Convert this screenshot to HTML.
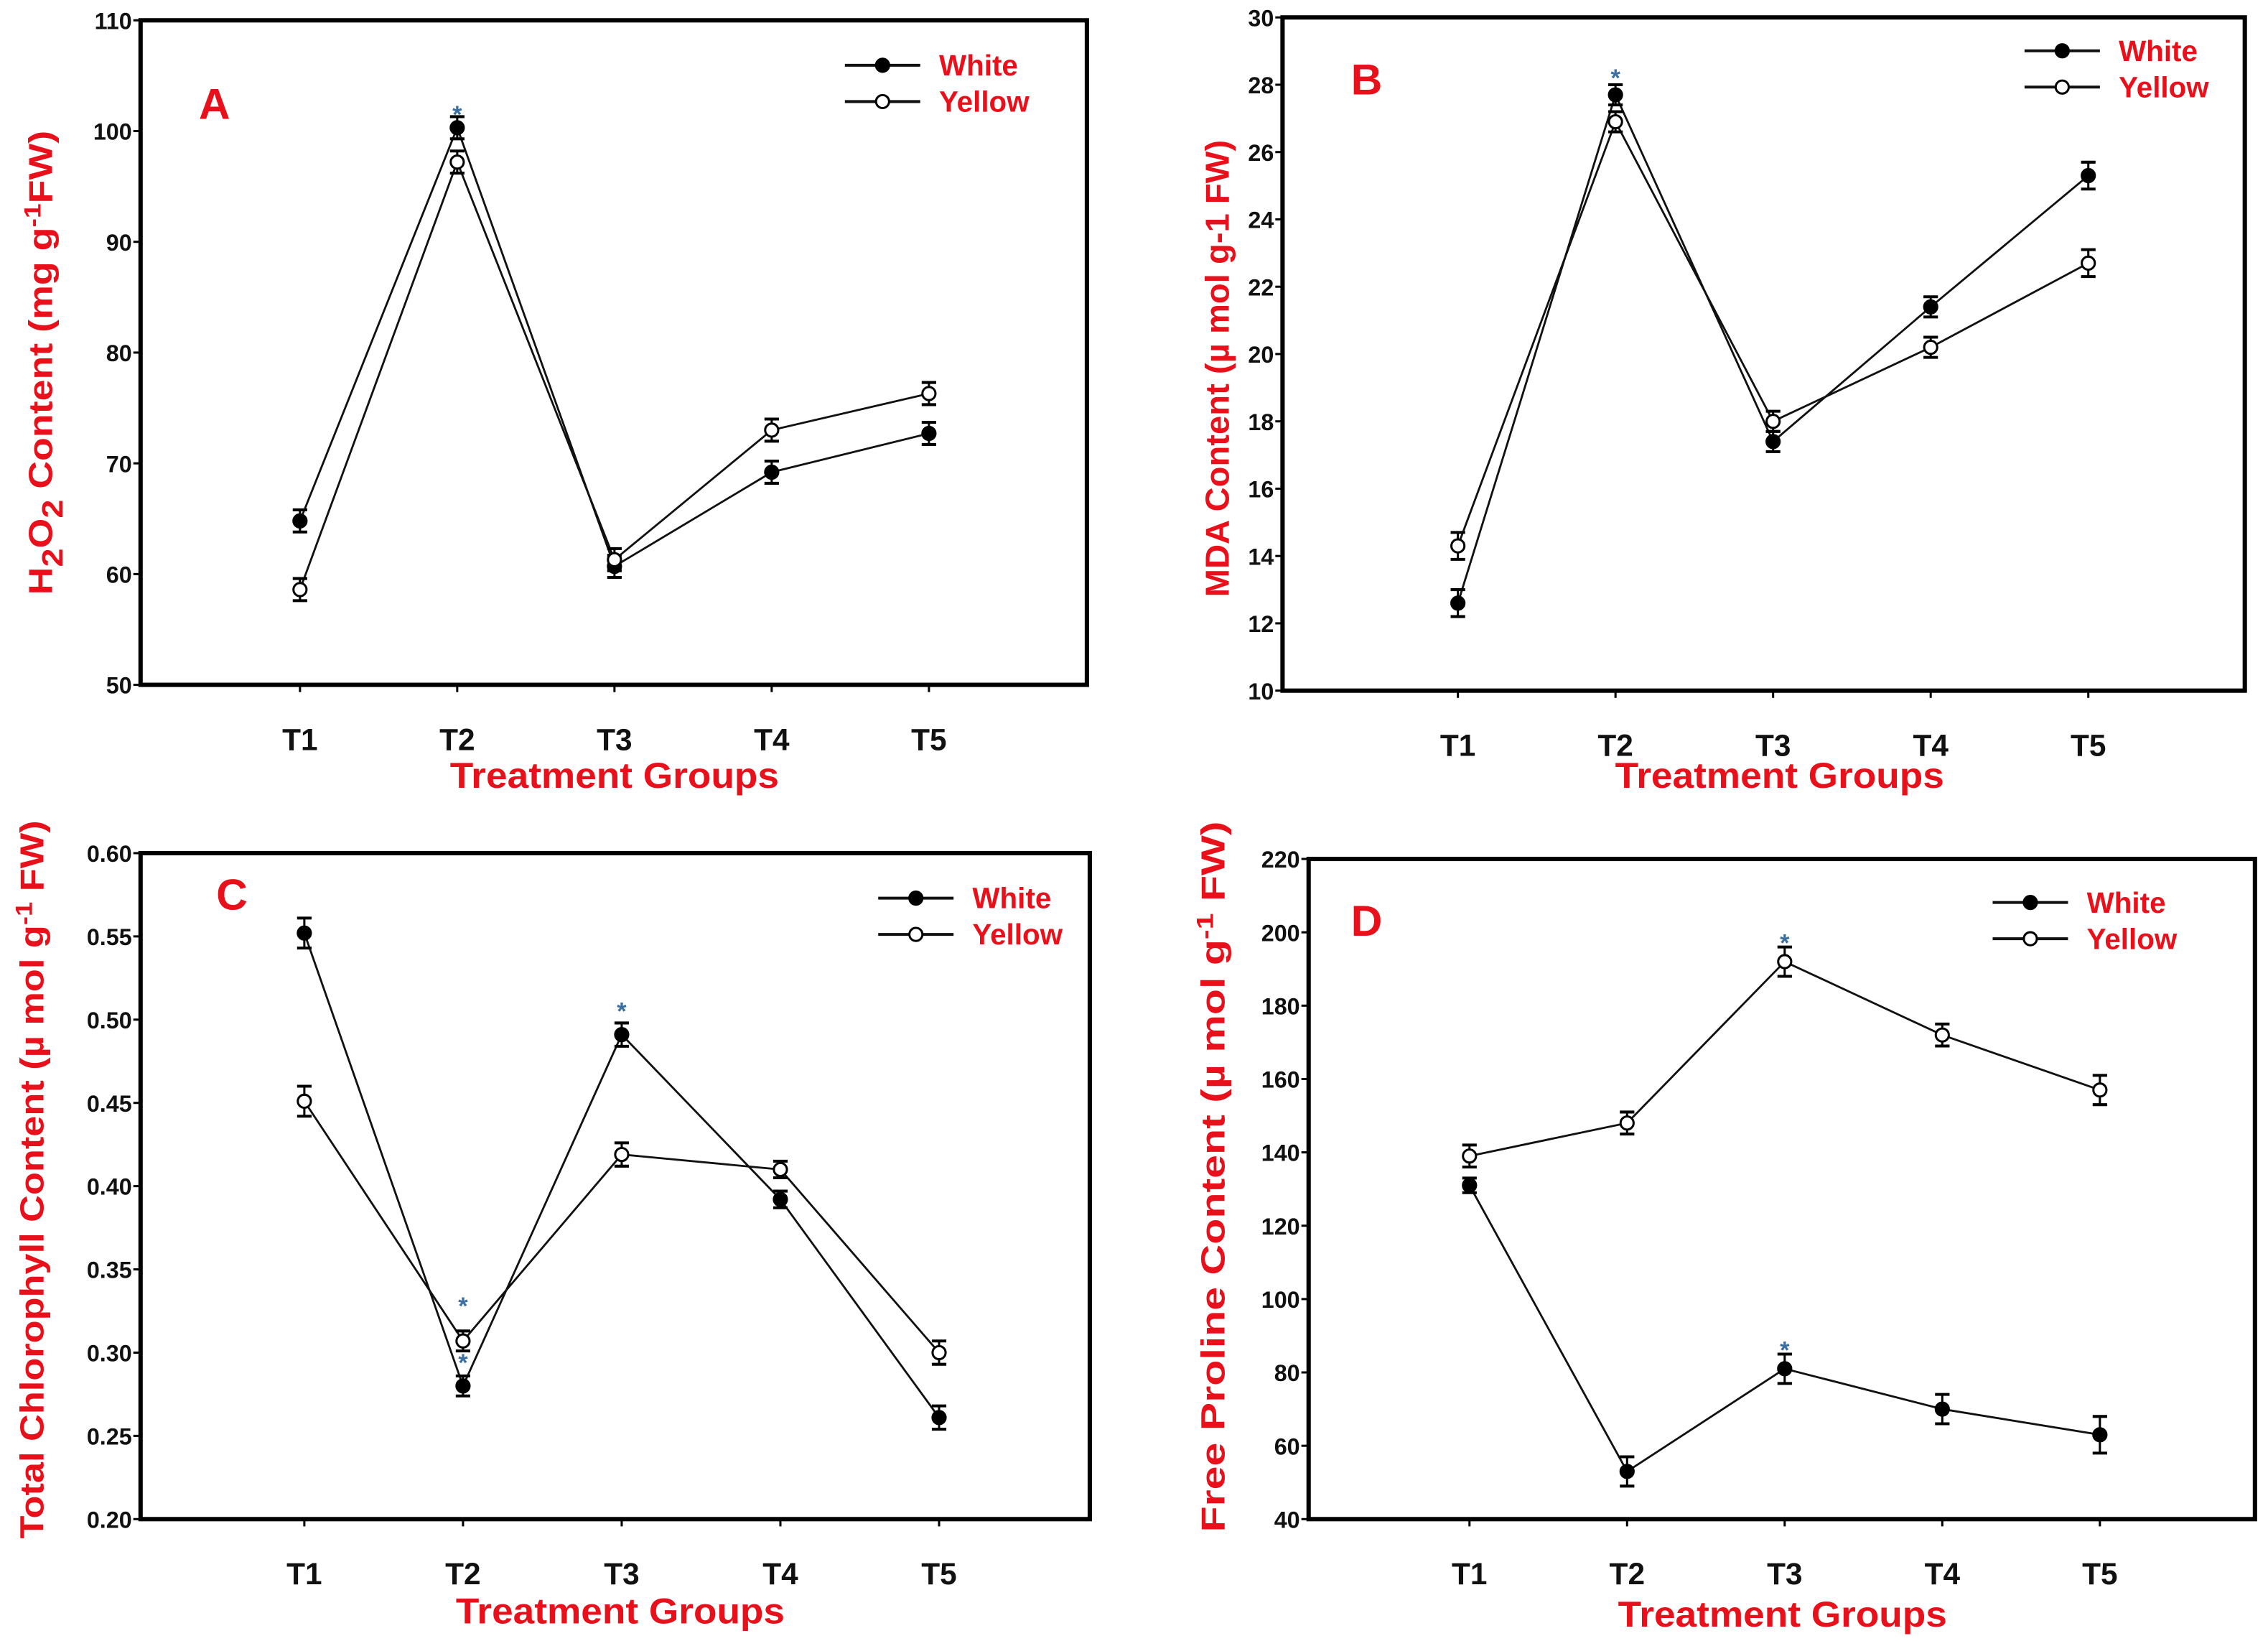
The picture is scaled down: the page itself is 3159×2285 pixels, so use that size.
<!DOCTYPE html>
<html><head><meta charset="utf-8">
<style>
html,body{margin:0;padding:0;background:#fff;}
svg{display:block;}
text{font-family:"Liberation Sans",Arial,sans-serif;font-weight:bold;}
</style></head>
<body>
<svg id="fig" xmlns="http://www.w3.org/2000/svg" width="3159" height="2285" viewBox="0 0 1565 1131" preserveAspectRatio="none">
<rect x="0" y="0" width="1565" height="1131" fill="#fff"/>
</svg>
<script>
// ---- data ----
const categories = ["T1","T2","T3","T4","T5"];
const aWhite = [64.8, 100.3, 60.7, 69.2, 72.7];
const aYellow = [58.6, 97.2, 61.3, 73.0, 76.3];
const aErr = [1.0, 1.0, 1.0, 1.0, 1.0];
const aTicks = [50,60,70,80,90,100,110];
const bWhite = [12.6, 27.7, 17.4, 21.4, 25.3];
const bYellow = [14.3, 26.9, 18.0, 20.2, 22.7];
const bErr = [0.4, 0.3, 0.3, 0.3, 0.4];
const bTicks = [10,12,14,16,18,20,22,24,26,28,30];
const cWhite = [0.552, 0.280, 0.491, 0.392, 0.261];
const cYellow = [0.451, 0.307, 0.419, 0.410, 0.300];
const cErr = [0.009, 0.006, 0.007, 0.005, 0.007];
const cTicks = ["0.20","0.25","0.30","0.35","0.40","0.45","0.50","0.55","0.60"];
const dWhite = [131, 53, 81, 70, 63];
const dYellow = [139, 148, 192, 172, 157];
const dErrW = [2, 4, 4, 4, 5];
const dErrY = [3, 3, 4, 3, 4];
const dTicks = [40,60,80,100,120,140,160,180,200,220];

const NS="http://www.w3.org/2000/svg";
const svg=document.getElementById('fig');
function mk(tag,attrs,parent,txt){const e=document.createElementNS(NS,tag);for(const k in attrs)e.setAttribute(k,attrs[k]);if(txt!==undefined)e.textContent=txt;(parent||svg).appendChild(e);return e;}

const panels=[
 {id:'a',letter:'A',L:97,R:750,T:14,B:472,x1:207,x5:641,ymin:50,ymax:110,ticks:aTicks,white:aWhite,yellow:aYellow,ew:aErr,ey:aErr,
  leg:{x:583,y:45},lx:148,ly:82,title:[['H',0],['2',1],['O',0],['2',1],[' Content (mg g',0],['-1',-1],['FW)',0]],tx:36,ty:250,tl:320,
  stars:[[1,'white',101.8]],xl:424,xy:543},
 {id:'b',letter:'B',L:885,R:1549,T:12,B:476,x1:1006,x5:1441,ymin:10,ymax:30,ticks:bTicks,white:bWhite,yellow:bYellow,ew:bErr,ey:bErr,
  leg:{x:1397,y:35},lx:943,ly:65,title:[['MDA Content (\u00b5 mol g-1 FW)',0]],tx:848,ty:254,tl:315,
  stars:[[1,'white',28.3]],xl:1228,xy:543},
 {id:'c',letter:'C',L:97,R:752,T:588,B:1047,x1:210,x5:648,ymin:0.2,ymax:0.6,ticks:cTicks,white:cWhite,yellow:cYellow,ew:cErr,ey:cErr,
  leg:{x:606,y:619},lx:160,ly:627,title:[['Total Chlorophyll Content (\u00b5 mol g',0],['-1',-1],[' FW)',0]],tx:30,ty:813,tl:495,
  stars:[[1,'w',0.33],[1,'w',0.296],[2,'w',0.507]],xl:428,xy:1119},
 {id:'d',letter:'D',L:903,R:1556,T:592,B:1047,x1:1014,x5:1449,ymin:40,ymax:220,ticks:dTicks,white:dWhite,yellow:dYellow,ew:dErrW,ey:dErrY,
  leg:{x:1375,y:622},lx:943,ly:645,title:[['Free Proline Content (\u00b5 mol g',0],['-1',-1],[' FW)',0]],tx:845,ty:811,tl:490,
  stars:[[2,'w',198],[2,'w',87]],xl:1230,xy:1121}
];

panels.forEach(p=>{
  const g=mk('g',{});
  
  
  const xs=i=>p.x1+(p.x5-p.x1)/4*i;
  const ys=v=>p.B-(v-p.ymin)/(p.ymax-p.ymin)*(p.B-p.T);
  const fr=mk('rect',{x:p.L,y:p.T,width:p.R-p.L,height:p.B-p.T,fill:'none',stroke:'#000','stroke-width':3},g);
  
  
  p.ticks.forEach(t=>{
    const v=parseFloat(t);const y=ys(v);
    mk('line',{x1:p.L-5,x2:p.L,y1:y,y2:y,stroke:'#000','stroke-width':1.5},g);
    const tl=mk('text',{x:p.L-6,y:y+6,'text-anchor':'end','font-size':16,fill:'#111'},g,String(t));
    
    
  });
  categories.forEach((c,i)=>{
    const x=xs(i);
    mk('line',{x1:x,x2:x,y1:p.B,y2:p.B+5,stroke:'#000','stroke-width':1.5},g);
    const tl=mk('text',{x:x,y:p.B+45,'text-anchor':'middle','font-size':21,fill:'#111'},g,c);
    
    
  });
  const xt=mk('text',{x:p.xl,y:p.xy,'text-anchor':'middle','font-size':25,fill:'#e8101a',textLength:227,lengthAdjust:'spacingAndGlyphs'},g,'Treatment Groups');
  
  
  const yt=mk('text',{transform:`translate(${p.tx},${p.ty}) rotate(-90)`,'text-anchor':'middle','font-size':23,fill:'#e8101a',textLength:p.tl,lengthAdjust:'spacingAndGlyphs'},g);
  
  
  let prev=0;
  p.title.forEach(([s,sh])=>{
    const ts=mk('tspan',{},yt,s);
    const off=sh===1?7:(sh===-1?-8:0);
    ts.setAttribute('dy',off-prev);
    if(sh===1)ts.setAttribute('font-size',20);
    if(sh===-1)ts.setAttribute('font-size',16);
    prev=off;
  });
  const lt=mk('text',{x:p.lx,y:p.ly,'text-anchor':'middle','font-size':30,fill:'#e8101a'},g,p.letter);
  
  
  [['white',p.white,p.ew,'#000'],['yellow',p.yellow,p.ey,'#fff']].forEach(([nm,vals,err,fill])=>{
    const pts=vals.map((v,i)=>xs(i)+','+ys(v)).join(' ');
    const pl=mk('polyline',{points:pts,fill:'none',stroke:'#111','stroke-width':1.4},g);
    
    
    vals.forEach((v,i)=>{
      const x=xs(i),yt2=ys(v+err[i]),yb=ys(v-err[i]);
      mk('line',{x1:x,x2:x,y1:yt2,y2:yb,stroke:'#000','stroke-width':1.5},g);
      mk('line',{x1:x-5,x2:x+5,y1:yt2,y2:yt2,stroke:'#000','stroke-width':2},g);
      mk('line',{x1:x-5,x2:x+5,y1:yb,y2:yb,stroke:'#000','stroke-width':2},g);
      const c=mk('circle',{cx:x,cy:ys(v),r:4.5,fill:fill,stroke:'#000','stroke-width':1.5},g);
      
      
    });
  });
  p.stars.forEach(([i,,v])=>{
    const s=mk('text',{x:xs(i),y:ys(v)+8,'text-anchor':'middle','font-size':17,fill:'#3a6fa0'},g,'*');
    
    
  });
  const lg=mk('g',{},g);
  
  
  [['White','#000',0],['Yellow','#fff',25]].forEach(([lab,fill,dy])=>{
    const y=p.leg.y+dy;
    mk('line',{x1:p.leg.x,x2:p.leg.x+52,y1:y,y2:y,stroke:'#111','stroke-width':2},lg);
    mk('circle',{cx:p.leg.x+26,cy:y,r:4.5,fill:fill,stroke:'#000','stroke-width':1.5},lg);
    const t=mk('text',{x:p.leg.x+65,y:y+7,'font-size':20,fill:'#e8101a'},lg,lab);
    
    
  });
});
</script>
</body></html>
